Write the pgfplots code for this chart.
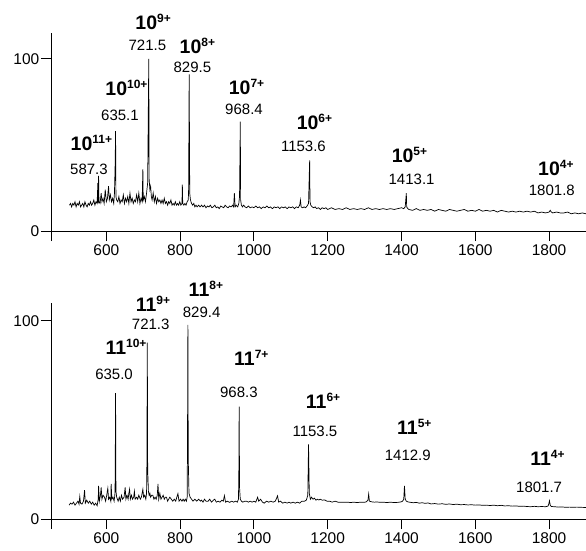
\documentclass[border=0pt]{standalone}
\usepackage{fontspec}
\setmainfont{Liberation Sans}
\usepackage{pgfplots}
\pgfplotsset{compat=1.18}

\newcommand{\ion}[2]{{\fontsize{19.5}{19.5}\selectfont\bfseries #1}\raisebox{7pt}{\fontsize{12}{12}\selectfont\bfseries #2}}
\newcommand{\mz}[1]{{\fontsize{15}{15}\selectfont #1}}

\tikzset{pk/.style={anchor=base, inner sep=0pt}}
\pgfplotsset{
  spec/.style={
    scale only axis, width=535pt,
    xmin=450, xmax=1900, ymin=0,
    axis x line*=bottom, axis y line*=left,
    axis line style={-, line width=0.9pt},
    xtick={600,800,...,1800}, ytick={0,100},
    extra x ticks={450}, extra x tick labels={},
    tick align=outside, major tick length=10pt,
    tick style={black, line width=0.9pt},
    ticklabel style={font=\fontsize{15.5}{15.5}\selectfont},
    yticklabel style={inner sep=1.5pt},
    /pgf/number format/assume math mode=true,
    /pgf/number format/1000 sep={},
    clip=false,
  },
}

\begin{document}
\begin{tikzpicture}
\useasboundingbox (0,0) rectangle (586pt,-551pt);

% upper spectrum (compound 10)
\begin{axis}[spec, height=198pt, ymax=115, at={(51pt,-231pt)}, anchor=south west]
\addplot[black, line width=0.7pt] coordinates {
(500,15) (503,16) (506,14) (509,16) (512,15) (515,17) (518,14) (521,16) (524,15) (527,17)
(530,14) (533,15) (536,16) (539,14) (542,17) (545,15) (548,14) (551,16) (554,15) (557,17)
(560,15) (563,16) (566,18) (569,15) (572,17) (575,16) (577,28) (578,16) (579,32) (580,17)
(583,16) (586,22) (588,17) (591,19) (594,16) (597,24) (600,17) (603,19) (606,26) (608,18)
(611,21) (614,17) (617,19) (620,16) (622,22) (624,40) (625,58) (626,20) (628,18) (631,17)
(634,20) (637,16) (640,18) (643,17) (646,21) (649,16) (652,19) (655,17) (658,20) (661,16)
(664,22) (667,17) (670,19) (673,16) (676,18) (679,17) (682,21) (685,17) (688,22) (691,16)
(694,19) (697,17) (699,36) (700,18) (703,20) (706,17) (709,22) (712,28) (715,100) (716,30)
(718,24) (720,26) (722,20) (724,18) (727,22) (730,17) (733,20) (736,16) (739,19) (742,17)
(745,18) (748,16) (751,18) (754,16) (757,19) (760,16) (763,17) (766,15) (769,17) (772,16)
(775,18) (778,15) (781,16) (784,15) (787,17) (790,15) (793,16) (796,15) (799,17) (802,15)
(805,16) (806,27) (807,16) (810,15) (813,16) (816,15) (819,17) (822,18) (823,24) (824.5,91)
(826,22) (828,18) (831,16) (834,15) (837,16) (840,14) (843,15) (846,14) (850,15) (854,14)
(858,15) (862,14) (866,15) (870,13.5) (874,14.5) (878,14) (882,15) (886,13.5) (890,14) (894,15)
(898,13.5) (902,14) (906,13) (910,14.5) (914,14) (918,13.5) (922,15) (926,14) (930,13.5) (934,14.5)
(938,14) (942,15) (945,14) (947,22) (949,14) (952,15) (956,14) (959,16) (961,20) (963,63.5)
(964,18) (966,15) (969,14) (972,15) (976,14) (980,13.5) (985,14.5) (990,13.5) (995,14) (1000,13.5)
(1005,14.5) (1010,13.5) (1015,14) (1020,13) (1025,14) (1030,13.5) (1035,14.5) (1040,13.5) (1045,14) (1050,13)
(1055,14) (1060,13.5) (1065,14) (1070,13) (1075,14) (1080,13.5) (1085,14) (1090,13) (1095,14) (1100,13.5)
(1105,14) (1110,13) (1115,14) (1120,13.5) (1124,15) (1126,18) (1128,14) (1132,13.5) (1136,14) (1140,13.5)
(1144,14.5) (1148,16) (1151,41) (1152,17) (1154,15) (1158,14) (1162,13.5) (1166,14) (1170,13) (1175,13.5)
(1180,12.5) (1185,13.5) (1190,13) (1195,13.5) (1200,12.5) (1210,13.5) (1220,12.5) (1230,13) (1240,12.5) (1250,13.5)
(1260,12.5) (1270,13) (1280,12.5) (1290,13) (1300,12.5) (1310,13.5) (1320,12.5) (1330,13) (1340,12.5) (1350,13)
(1360,12.5) (1370,13) (1380,12.5) (1390,13) (1400,13.5) (1406,13) (1410,14) (1413,22) (1414,14) (1417,13)
(1420,12.5) (1430,12) (1440,13) (1450,12) (1460,12.5) (1470,12) (1480,12.5) (1490,11.5) (1500,12.5) (1510,12)
(1520,11.5) (1530,12.5) (1540,12) (1550,11.5) (1560,12) (1570,12.5) (1580,11.5) (1590,12) (1600,11.5) (1610,12.5)
(1620,11.5) (1630,12) (1640,11.5) (1650,12) (1660,11) (1670,12) (1680,11.5) (1690,11) (1700,11.5) (1710,11)
(1720,11.5) (1730,11) (1740,11.5) (1750,11) (1760,11.5) (1770,10.5) (1780,11) (1790,10.5) (1800,11) (1803,12)
(1806,11) (1810,10.5) (1820,11) (1830,10.5) (1840,10.5) (1850,11) (1860,10) (1870,10.5) (1880,10) (1890,10.5)
(1900,10)
};
\node[pk] at (axis cs:726.9,117.3) {\ion{10}{9+}};
\node[pk] at (axis cs:711.2,104.8) {\mz{721.5}};
\node[pk] at (axis cs:846.7,103.3) {\ion{10}{8+}};
\node[pk] at (axis cs:833.2,92.0) {\mz{829.5}};
\node[pk] at (axis cs:654.5,78.5) {\ion{10}{10+}};
\node[pk] at (axis cs:636.9,64.1) {\mz{635.1}};
\node[pk] at (axis cs:559.6,46.7) {\ion{10}{11+}};
\node[pk] at (axis cs:552.8,33.1) {\mz{587.3}};
\node[pk] at (axis cs:979.9,79.1) {\ion{10}{7+}};
\node[pk] at (axis cs:973.1,67.8) {\mz{968.4}};
\node[pk] at (axis cs:1164,58.7) {\ion{10}{6+}};
\node[pk] at (axis cs:1134.2,46.1) {\mz{1153.6}};
\node[pk] at (axis cs:1421.6,39.9) {\ion{10}{5+}};
\node[pk] at (axis cs:1427.3,27.2) {\mz{1413.1}};
\node[pk] at (axis cs:1818.3,32.0) {\ion{10}{4+}};
\node[pk] at (axis cs:1807.4,20.9) {\mz{1801.8}};
\end{axis}

% lower spectrum (compound 11)
\begin{axis}[spec, height=216pt, ymax=109, at={(51pt,-519pt)}, anchor=south west]
\addplot[black, line width=0.7pt] coordinates {
(499,7) (503,8) (507,7.5) (511,8.5) (515,7) (519,8) (523,9) (526,7.5) (528,11.3) (530,8)
(534,7.5) (538,9) (541,14.6) (543,8) (547,9.5) (551,8) (555,9) (559,7.5) (563,8.5) (567,7)
(571,8) (575,6.7) (578,10) (579,16.7) (581,9) (584,12) (586,16) (588,10) (591,12) (595,11)
(598,9) (601,12) (604,15.5) (606,10) (609,11) (612,9) (613,17.7) (615,10) (618,11) (621,9)
(623,12) (624,20) (625,63.5) (626,14) (628,11) (632,9) (635,11) (638,9) (641,12) (644,10)
(648,11) (651,16) (653,10) (656,12) (659,10) (661,13) (663,15) (665,10) (668,12) (671,10)
(674,11) (676,14) (678,10) (682,11) (685,10) (688,12) (692,10) (695,11) (699,15) (701,11)
(704,12) (707,10) (709,13) (710,30) (711,89) (712,25) (714,14) (716,12) (718,13) (720,11)
(723,12) (726,12) (729,10) (732,11) (735,10) (738,12) (740,17.7) (742,10) (745,13) (748,10)
(751,11) (754,12) (757,10) (760,11) (763,11) (766,9) (769,10) (772,11) (776,10) (780,9)
(784,10) (788,9) (791,11) (794,12.8) (797,9) (801,10) (805,9) (808,10) (811,9) (814,10)
(817,9) (819,11) (820,40) (821,98) (822,30) (824,13) (827,11) (831,10) (835,9) (840,10)
(845,9) (850,10) (855,9) (858,9.5) (862,8.5) (866,10) (870,9) (876,9) (880,10) (885,8.5)
(890,9.5) (894,10) (898,8.5) (903,9) (908,8.5) (913,9.5) (917,9) (920,11.8) (923,8.5) (928,9)
(934,8.4) (940,9) (945,8.5) (950,9) (955,8.5) (958,10) (959,20) (960,56.7) (961,16) (963,10)
(966,9) (970,8.5) (975,9) (980,9) (985,8.5) (990,9) (995,8.5) (1000,9) (1005,8.5) (1010,11)
(1013,9) (1018,10) (1023,8.5) (1028,8) (1034,9) (1040,8.5) (1046,9) (1052,8.5) (1058,9) (1064,11.7)
(1067,8.5) (1072,9) (1078,8) (1084,8.5) (1090,8) (1095,8.5) (1100,8) (1106,8.5) (1112,8) (1118,8.5)
(1124,8) (1130,9) (1137,9) (1142,9.5) (1146,12) (1148,37.7) (1150,13) (1153,10) (1156,11) (1160,10)
(1164,10.5) (1168,9.5) (1172,10) (1176,9.6) (1180,10) (1185,9.5) (1192,9.6) (1198,9) (1205,9) (1212,8.5)
(1220,9) (1228,8.5) (1236,8.5) (1245,8.4) (1254,8.5) (1262,8.3) (1270,8.5) (1280,8.3) (1290,8.5) (1299,8.4)
(1305,8.7) (1309,9.5) (1311,12.6) (1313,9) (1318,8.7) (1326,8.5) (1334,8.6) (1342,8.4) (1350,8.5) (1360,8.3)
(1370,8.5) (1380,8.3) (1390,8.4) (1398,8.6) (1403,9) (1406,10) (1408,16.7) (1410,10) (1413,9) (1418,8.6)
(1425,8.4) (1432,8.2) (1440,8.4) (1448,8) (1456,8.2) (1464,7.9) (1472,8.1) (1480,7.6) (1490,7.8) (1500,7.5)
(1510,7.7) (1520,7.4) (1530,7.6) (1540,7.3) (1550,7.5) (1560,7.2) (1570,7.3) (1580,7.1) (1590,7.2) (1600,7)
(1610,7.1) (1620,6.9) (1630,7) (1640,6.8) (1650,7) (1660,6.7) (1670,6.9) (1680,6.6) (1690,6.7) (1700,6.5)
(1710,6.6) (1720,6.4) (1730,6.5) (1740,6.3) (1750,6.2) (1760,6.4) (1770,6.2) (1780,6.3) (1790,6.2) (1797,6.5)
(1799,7.5) (1801,9.2) (1803,7) (1806,6.3) (1815,6.2) (1825,6) (1835,6.1) (1845,5.9) (1855,6) (1865,5.9)
(1875,6) (1887,5.9) (1900,5.8)
};
\node[pk] at (axis cs:726.4,104.7) {\ion{11}{9+}};
\node[pk] at (axis cs:720.2,95.8) {\mz{721.3}};
\node[pk] at (axis cs:869.8,112.1) {\ion{11}{8+}};
\node[pk] at (axis cs:858.2,101.9) {\mz{829.4}};
\node[pk] at (axis cs:653.3,82.8) {\ion{11}{10+}};
\node[pk] at (axis cs:620.8,70.2) {\mz{635.0}};
\node[pk] at (axis cs:993,77.3) {\ion{11}{7+}};
\node[pk] at (axis cs:959.1,61.5) {\mz{968.3}};
\node[pk] at (axis cs:1187.3,55.9) {\ion{11}{6+}};
\node[pk] at (axis cs:1165.4,41.6) {\mz{1153.5}};
\node[pk] at (axis cs:1434.6,42.8) {\ion{11}{5+}};
\node[pk] at (axis cs:1417,29.4) {\mz{1412.9}};
\node[pk] at (axis cs:1795.4,26.9) {\ion{11}{4+}};
\node[pk] at (axis cs:1772.9,13.3) {\mz{1801.7}};
\end{axis}
\end{tikzpicture}
\end{document}
